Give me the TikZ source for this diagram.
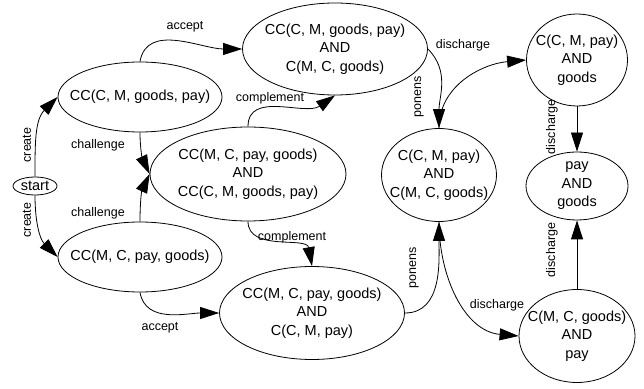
\documentclass[tikz,border=0pt]{standalone}
\usepackage{fontspec}
\setmainfont{Liberation Sans}
\usetikzlibrary{arrows.meta,shapes.geometric}
\newcommand{\statefont}{\fontsize{14.5}{18.5}\selectfont}
\newcommand{\edgefont}{\fontsize{12.5}{14}\selectfont}
\tikzset{>={Triangle[length=19pt,width=12pt]},
 state/.style={ellipse,draw,line width=0.8pt,inner xsep=-20pt,inner ysep=0pt,
 align=center,font=\statefont},
 lbl/.style={font=\edgefont,inner sep=0pt},
 every edge/.style={draw,->,line width=0.8pt}}

\begin{document}
\begin{tikzpicture}[x=1pt,y=1pt]
\useasboundingbox (0,0) rectangle (644,388);
% states
\node[state,minimum width=44pt,minimum height=18pt,inner ysep=-3pt,inner xsep=0pt] (start) at (35,202) {start};
\node[state,minimum width=164pt,minimum height=70pt] (cm) at (140,291) {CC(C, M, goods, pay)};
\node[state,minimum width=164pt,minimum height=70pt] (mc) at (140,131) {CC(M, C, pay, goods)};
\node[state,minimum width=196pt,minimum height=94pt] (both) at (248,214) {CC(M, C, pay, goods)\\AND\\CC(C, M, goods, pay)};
\node[state,minimum width=185pt,minimum height=92pt] (accC) at (335,339) {CC(C, M, goods, pay)\\AND\\C(M, C, goods)};
\node[state,minimum width=185pt,minimum height=93pt] (accM) at (312,75) {CC(M, C, pay, goods)\\AND\\C(C, M, pay)};
\node[state,minimum width=115pt,minimum height=93pt] (cond) at (439,213) {C(C, M, pay)\\AND\\C(M, C, goods)};
\node[state,minimum width=101pt,minimum height=92pt] (gotgoods) at (577,328) {C(C, M, pay)\\AND\\goods};
\node[state,minimum width=102pt,minimum height=68pt] (done) at (577,202) {pay\\AND\\goods};
\node[state,minimum width=116pt,minimum height=93pt] (gotpay) at (577,52) {C(M, C, goods)\\AND\\pay};
% transitions
\draw (start.north) edge[out=90,in=225] (cm.west)
 (start.south) edge[out=-90,in=135] (mc.west)
 (cm.south) edge[out=-90,in=115] (both.west)
 (mc.north) edge[out=90,in=-115] (both.west)
 (cm.north) edge[out=80,in=180] (accC.west)
 (mc.south) edge[out=-80,in=180] (accM.west)
 (both.north) edge[out=90,in=215] (accC.south)
 (both.south) edge[out=-90,in=100] (accM.north)
 (accC.east) edge[out=-45,in=90] (cond.north)
 (accM.east) edge[out=0,in=-90] (cond.south)
 (cond.north) edge[out=90,in=185] (gotgoods.west)
 (cond.south) edge[out=-90,in=175] (gotpay.west)
 (gotgoods.south) edge (done.north)
 (gotpay.north) edge (done.south);
% labels
\node[lbl,rotate=90] (create1) at (27,243) {create};
\node[lbl,rotate=90] (create2) at (27,168) {create};
\node[lbl] (chal1) at (98,243) {challenge};
\node[lbl] (chal2) at (98,175) {challenge};
\node[lbl] (acc1) at (185,361) {accept};
\node[lbl] (acc2) at (160,60) {accept};
\node[lbl] (comp1) at (270,290) {complement};
\node[lbl] (comp2) at (292,151) {complement};
\node[lbl,rotate=90] (pon1) at (419,291) {ponens};
\node[lbl,rotate=90] (pon2) at (414,120) {ponens};
\node[lbl] (dis1) at (463,343) {discharge};
\node[lbl] (dis2) at (497,83) {discharge};
\node[lbl,rotate=90] (dis3) at (552,261) {discharge};
\node[lbl,rotate=90] (dis4) at (552,138) {discharge};
\end{tikzpicture}
\end{document}
